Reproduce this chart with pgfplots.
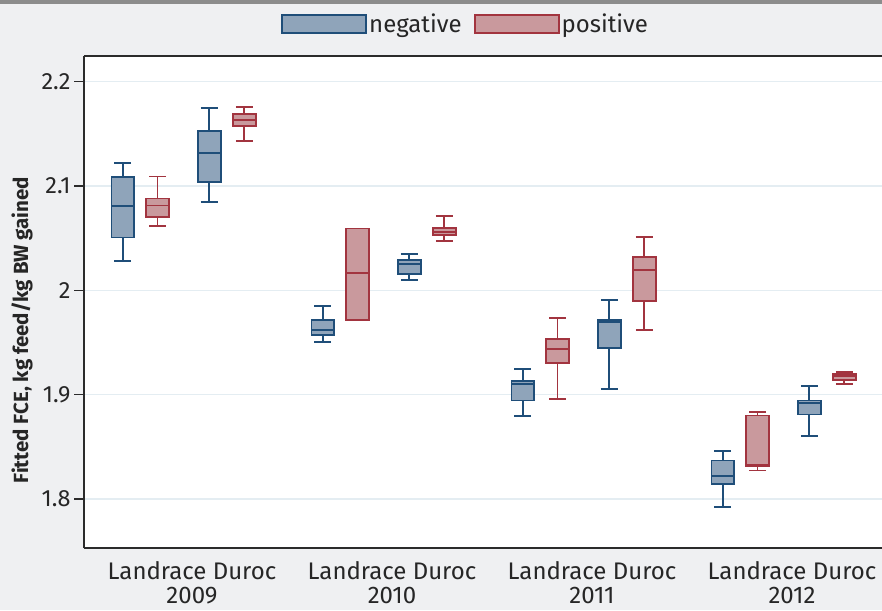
\documentclass[border=0pt]{standalone}
\usepackage{fontspec}
\setmainfont{Fira Sans}
\usepackage{pgfplots}
\pgfplotsset{compat=1.18}
\usepgfplotslibrary{statistics}
\definecolor{bgc}{HTML}{EFF0F2}
\definecolor{negE}{HTML}{1F4E79}
\definecolor{negF}{HTML}{8FA4BA}
\definecolor{posE}{HTML}{A2343F}
\definecolor{posF}{HTML}{C9999D}
\definecolor{gridc}{HTML}{E4EDF2}
\definecolor{axc}{HTML}{2B2B2B}
\definecolor{txtc}{HTML}{262626}
\definecolor{topbar}{HTML}{8C8C8C}
\pgfplotsset{
  negbox/.style={draw=negE, fill=negF, line width=1.9pt, solid, mark=none},
  posbox/.style={draw=posE, fill=posF, line width=1.9pt, solid, mark=none},
  patchleg/.style={legend image code/.code={\draw[##1] (0pt,-9pt) rectangle (84pt,9pt);}},
}
\begin{document}
\begin{tikzpicture}
\fill[bgc] (0pt,0pt) rectangle (882pt,610pt);
\useasboundingbox (0pt,0pt) rectangle (882pt,610pt);
\fill[topbar] (0pt,605.5pt) rectangle (882pt,610pt);
\begin{axis}[
  at={(84pt,62pt)}, anchor=south west,
  scale only axis, width=798pt, height=492pt,
  xmin=0, xmax=7.98, ymin=1.753, ymax=2.2246,
  axis background/.style={fill=white},
  axis lines*=left,
  axis line style={axc, line width=1.6pt},
  ytick={1.8,1.9,2,2.1,2.2},
  yticklabels={1.8,1.9,2,2.1,2.2},
  tick align=outside,
  major tick length=10pt,
  ytick style={axc, line width=1.6pt},
  xtick style={draw=none},
  xtick={1.08,3.08,5.08,7.08},
  xticklabels={{Landrace Duroc\\2009},{Landrace Duroc\\2010},{Landrace Duroc\\2011},{Landrace Duroc\\2012}},
  xticklabel style={align=center, font=\fontsize{24}{24.5}\selectfont, text=txtc, inner sep=0pt, yshift=-3pt},
  yticklabel style={font=\fontsize{23.5}{26}\selectfont, text=txtc},
  ymajorgrids, grid style={gridc, line width=1.4pt},
  ylabel={Fitted FCE, kg feed/kg BW gained},
  every axis y label/.style={at={(axis description cs:-0.0777,0.443)}, rotate=90, anchor=center,
     font=\bfseries\fontsize{20.5}{24}\selectfont, text=txtc},
  boxplot/draw direction=y,
  boxplot/box extend=0.225,
  boxplot/whisker extend=0.17,
  boxplot/every box/.style={line width=1.9pt},
  boxplot/every median/.style={line width=1.9pt},
  boxplot/every whisker/.style={line width=1.9pt},
  legend style={at={(axis description cs:0.247,1.065)}, anchor=west, draw=none, fill=none,
    font=\fontsize{24}{28}\selectfont, text=txtc, inner sep=0pt,
    /tikz/every even column/.append style={column sep=10pt}},
  legend columns=2,
  legend cell align=left,
]
\addlegendimage{patchleg, draw=negE, fill=negF, line width=1.9pt}
\addlegendentry{negative}
\addlegendimage{patchleg, draw=posE, fill=posF, line width=1.9pt}
\addlegendentry{positive}
% 2009
\addplot[negbox, boxplot prepared={draw position=0.387, lower whisker=2.028, lower quartile=2.0506, median=2.0806, upper quartile=2.1082, upper whisker=2.1216}] coordinates {};
\addplot[posbox, boxplot prepared={draw position=0.735, lower whisker=2.0617, lower quartile=2.0704, median=2.0813, upper quartile=2.088, upper whisker=2.1091}] coordinates {};
\addplot[negbox, boxplot prepared={draw position=1.253, lower whisker=2.0848, lower quartile=2.104, median=2.132, upper quartile=2.1529, upper whisker=2.175}] coordinates {};
\addplot[posbox, boxplot prepared={draw position=1.603, lower whisker=2.143, lower quartile=2.1574, median=2.1631, upper quartile=2.1689, upper whisker=2.1756}] coordinates {};
% 2010
\addplot[negbox, boxplot prepared={draw position=2.387, lower whisker=1.9504, lower quartile=1.9575, median=1.9616, upper quartile=1.9712, upper whisker=1.985}] coordinates {};
\addplot[posbox, boxplot prepared={draw position=2.735, lower whisker=1.9715, lower quartile=1.9715, median=2.0163, upper quartile=2.0592, upper whisker=2.0592}] coordinates {};
\addplot[negbox, boxplot prepared={draw position=3.253, lower whisker=2.0096, lower quartile=2.0154, median=2.025, upper quartile=2.0294, upper whisker=2.0345}] coordinates {};
\addplot[posbox, boxplot prepared={draw position=3.603, lower whisker=2.047, lower quartile=2.0534, median=2.056, upper quartile=2.0595, upper whisker=2.071}] coordinates {};
% 2011
\addplot[negbox, boxplot prepared={draw position=4.387, lower whisker=1.8794, lower quartile=1.8944, median=1.9105, upper quartile=1.913, upper whisker=1.9248}] coordinates {};
\addplot[posbox, boxplot prepared={draw position=4.735, lower whisker=1.8954, lower quartile=1.9306, median=1.944, upper quartile=1.953, upper whisker=1.9734}] coordinates {};
\addplot[negbox, boxplot prepared={draw position=5.253, lower whisker=1.9057, lower quartile=1.945, median=1.9693, upper quartile=1.9719, upper whisker=1.9904}] coordinates {};
\addplot[posbox, boxplot prepared={draw position=5.603, lower whisker=1.9616, lower quartile=1.9897, median=2.0192, upper quartile=2.0317, upper whisker=2.0512}] coordinates {};
% 2012
\addplot[negbox, boxplot prepared={draw position=6.387, lower whisker=1.792, lower quartile=1.8145, median=1.8218, upper quartile=1.8369, upper whisker=1.8458}] coordinates {};
\addplot[posbox, boxplot prepared={draw position=6.735, lower whisker=1.8273, lower quartile=1.8314, median=1.8327, upper quartile=1.88, upper whisker=1.8832}] coordinates {};
\addplot[negbox, boxplot prepared={draw position=7.253, lower whisker=1.8602, lower quartile=1.881, median=1.8922, upper quartile=1.8944, upper whisker=1.9079}] coordinates {};
\addplot[posbox, boxplot prepared={draw position=7.603, lower whisker=1.9098, lower quartile=1.9143, median=1.9175, upper quartile=1.92, upper whisker=1.922}] coordinates {};
\draw[axc, line width=1.6pt] (rel axis cs:0,1) -- (rel axis cs:1,1);
\end{axis}
\end{tikzpicture}
\end{document}
